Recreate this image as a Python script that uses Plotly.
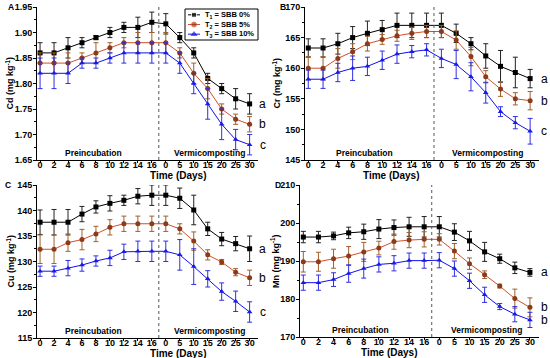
import plotly.graph_objects as go

# ---- x categories ----
pre_days = [0, 2, 4, 6, 8, 10, 12, 14, 16]
vermi_days = [0, 5, 10, 15, 20, 25, 30]
tick_labels = [str(d) for d in pre_days] + [str(d) for d in vermi_days]
x_idx = list(range(len(tick_labels)))

series_names = ["T<sub>1</sub> = SBB 0%", "T<sub>2</sub> = SBB 5%", "T<sub>3</sub> = SBB 10%"]

# ---- Cd ----
cd_t1 = [1.86, 1.86, 1.87, 1.88, 1.89, 1.90, 1.91, 1.91, 1.92, 1.917, 1.89, 1.86, 1.81, 1.79, 1.77, 1.76]
cd_t1_err = [0.02, 0.02, 0.02, 0.01, 0.004, 0.01, 0.01, 0.02, 0.02, 0.02, 0.01, 0.01, 0.01, 0.01, 0.02, 0.02]
cd_t2 = [1.84, 1.84, 1.84, 1.85, 1.86, 1.87, 1.88, 1.88, 1.88, 1.88, 1.86, 1.82, 1.79, 1.75, 1.73, 1.72]
cd_t2_err = [0.02, 0.02, 0.02, 0.01, 0.02, 0.01, 0.01, 0.02, 0.02, 0.02, 0.01, 0.02, 0.02, 0.01, 0.01, 0.015]
cd_t3 = [1.82, 1.82, 1.82, 1.84, 1.84, 1.85, 1.86, 1.86, 1.86, 1.86, 1.84, 1.80, 1.76, 1.72, 1.69, 1.68]
cd_t3_err = [0.03, 0.03, 0.02, 0.01, 0.01, 0.01, 0.02, 0.02, 0.02, 0.02, 0.02, 0.02, 0.03, 0.03, 0.02, 0.02]

# ---- Cr ----
cr_t1 = [163.3, 163.3, 164.0, 165.0, 165.7, 166.3, 167.0, 167.0, 167.0, 167.0, 165.7, 164.0, 162.0, 160.3, 159.3, 158.3]
cr_t1_err = [1.5, 1.5, 1.7, 1.8, 2.0, 1.5, 2.0, 2.0, 2.0, 2.0, 1.5, 1.0, 2.0, 2.6, 2.5, 1.5]
cr_t2 = [160.0, 160.0, 161.6, 162.7, 164.0, 164.7, 165.3, 165.7, 166.0, 166.0, 164.6, 161.9, 158.6, 156.6, 155.0, 154.7]
cr_t2_err = [1.9, 1.9, 1.6, 1.3, 1.2, 0.8, 0.9, 1.0, 1.0, 1.0, 1.5, 1.5, 1.0, 1.2, 1.0, 1.5]
cr_t3 = [158.2, 158.2, 159.3, 160.0, 160.3, 161.3, 162.3, 162.7, 163.0, 161.6, 160.6, 158.6, 156.0, 152.9, 151.1, 149.7]
cr_t3_err = [1.5, 1.5, 1.5, 2.0, 1.5, 1.5, 1.5, 1.0, 1.0, 1.5, 2.3, 2.3, 1.7, 0.8, 1.0, 2.1]

# ---- Cu ----
cu_t1 = [137.7, 137.7, 137.7, 139.3, 140.7, 141.4, 142.0, 142.8, 143.0, 143.0, 142.4, 140.1, 136.4, 134.4, 133.5, 132.5]
cu_t1_err = [2.4, 2.5, 2.5, 1.5, 1.2, 1.5, 1.0, 1.5, 2.0, 2.0, 2.0, 2.9, 1.3, 1.3, 1.4, 2.5]
cu_t2 = [132.4, 132.4, 133.7, 134.3, 135.4, 136.7, 137.4, 137.4, 137.4, 137.4, 136.4, 134.0, 131.3, 129.9, 127.9, 126.8]
cu_t2_err = [2.8, 2.8, 1.7, 2.0, 1.5, 1.5, 1.5, 1.5, 1.5, 1.5, 1.0, 1.8, 1.0, 0.5, 0.7, 1.5]
cu_t3 = [128.1, 128.1, 128.7, 129.3, 130.1, 130.7, 131.9, 132.0, 132.0, 132.0, 131.3, 129.0, 126.6, 124.1, 122.2, 120.1]
cu_t3_err = [1.0, 1.0, 1.5, 1.2, 1.0, 1.5, 1.5, 2.0, 2.0, 2.0, 3.0, 3.5, 1.6, 1.7, 2.0, 2.0]

# ---- Mn ----
mn_t1 = [196.3, 196.3, 196.6, 197.4, 197.7, 198.4, 198.8, 199.0, 199.0, 199.0, 197.6, 195.3, 192.4, 190.6, 188.2, 187.0]
mn_t1_err = [1.5, 1.5, 1.0, 1.5, 2.0, 2.5, 2.0, 2.5, 2.7, 2.7, 2.2, 2.5, 2.5, 1.2, 1.5, 1.0]
mn_t2 = [189.8, 189.8, 190.6, 191.3, 192.4, 193.4, 195.1, 195.5, 195.7, 195.7, 192.6, 189.3, 186.4, 183.4, 180.1, 177.8]
mn_t2_err = [2.7, 2.5, 2.5, 2.5, 2.5, 1.8, 2.0, 2.0, 2.0, 1.5, 2.0, 1.5, 1.0, 0.5, 2.5, 2.5]
mn_t3 = [184.3, 184.3, 185.1, 186.7, 188.0, 189.1, 189.4, 190.1, 190.1, 190.2, 188.0, 184.8, 181.1, 178.0, 176.0, 174.5]
mn_t3_err = [2.0, 2.0, 1.8, 2.3, 2.5, 2.0, 2.0, 2.0, 2.0, 2.0, 2.0, 2.0, 2.0, 0.8, 2.0, 2.0]

panel_letters = ["A", "B", "C", "D"]
y_titles = ["Cd (mg kg<sup>-1</sup>)", "Cr (mg kg<sup>-1</sup>)", "Cu (mg kg<sup>-1</sup>)", "Mn (mg kg<sup>-1</sup>)"]
x_title = "Time (Days)"
y_ranges = [[1.65, 1.95], [145, 170], [115, 145], [170, 210]]
y_dticks = [0.05, 5, 5, 10]
y_formats = [".2f", "d", "d", "d"]
sig_letters = [["a", "b", "c"], ["a", "b", "c"], ["a", "b", "c"], ["a", "b", "b"]]

panels = [
    [(cd_t1, cd_t1_err), (cd_t2, cd_t2_err), (cd_t3, cd_t3_err)],
    [(cr_t1, cr_t1_err), (cr_t2, cr_t2_err), (cr_t3, cr_t3_err)],
    [(cu_t1, cu_t1_err), (cu_t2, cu_t2_err), (cu_t3, cu_t3_err)],
    [(mn_t1, mn_t1_err), (mn_t2, mn_t2_err), (mn_t3, mn_t3_err)],
]

line_colors = ["#000000", "#d0502a", "#1010f0"]
marker_colors = ["#000000", "#8b3a1a", "#1a1ae6"]
err_colors = ["#222222", "#a0602a", "#3030e0"]
symbols = ["square", "circle", "triangle-up"]

W, H = 550, 358
X_RANGE = [-0.22, 15.6]
# panel plot areas in pixels: (left, right, top, bottom)
boxes = [(37, 258, 7, 160), (305, 539, 7, 160), (37, 258, 185, 338), (300, 539, 185, 337)]
x_domains = [[b[0] / W, b[1] / W] for b in boxes]
y_domains = [[1 - b[3] / H, 1 - b[2] / H] for b in boxes]
ytitle_x = [10, 277, 10, 275]
letter_pos = [(11, 7), (283, 7), (8, 185), (278, 185)]
# legend box (pixels) in panel A
LEG = (185, 258, 9, 40)

FONT = "Liberation Sans, Arial, sans-serif"

fig = go.Figure()
layout = dict(
    width=W, height=H,
    margin=dict(l=0, r=0, t=0, b=0, autoexpand=False),
    paper_bgcolor="white", plot_bgcolor="white",
    font=dict(family=FONT, color="black", size=9),
    showlegend=False,
)
annotations = []
shapes = []

for p in range(4):
    sfx = "" if p == 0 else str(p + 1)
    xa, ya = "x" + sfx, "y" + sfx
    l, r, t, b = boxes[p]
    for s, (vals, errs) in enumerate(panels[p]):
        fig.add_trace(go.Scatter(
            x=x_idx, y=vals, xaxis=xa, yaxis=ya,
            mode="lines+markers",
            name=series_names[s],
            line=dict(color=line_colors[s], width=1),
            marker=dict(symbol=symbols[s], size=5, color=marker_colors[s]),
            error_y=dict(type="data", array=errs, visible=True,
                         color=err_colors[s], thickness=1, width=2.5),
            cliponaxis=False,
        ))
        fx = (15.95 - X_RANGE[0]) / (X_RANGE[1] - X_RANGE[0])
        annotations.append(dict(
            x=x_domains[p][0] + fx * (x_domains[p][1] - x_domains[p][0]),
            y=vals[-1], xref="paper", yref=ya, text=sig_letters[p][s],
            showarrow=False, font=dict(size=12, family=FONT), xanchor="center",
        ))
    layout["xaxis" + sfx] = dict(
        domain=x_domains[p], anchor=ya, range=X_RANGE,
        tickmode="array", tickvals=x_idx, ticktext=tick_labels,
        showline=True, linecolor="black", linewidth=1, mirror=False,
        ticks="outside", ticklen=2, tickcolor="black",
        ticklabelstandoff=-6,
        showgrid=False, zeroline=False,
        tickfont=dict(size=9, weight="bold", family=FONT),
    )
    layout["yaxis" + sfx] = dict(
        domain=y_domains[p], anchor=xa, range=y_ranges[p],
        dtick=y_dticks[p], tick0=y_ranges[p][0], tickformat=y_formats[p],
        showline=True, linecolor="black", linewidth=1, mirror=False,
        ticks="outside", ticklen=3, tickcolor="black",
        ticklabelstandoff=-1,
        minor=dict(ticks="outside", ticklen=2, dtick=y_dticks[p] / 2, tickcolor="black"),
        showgrid=False, zeroline=False,
        tickfont=dict(size=9, weight="bold", family=FONT),
    )
    annotations.append(dict(x=(l + r) / 2 / W, y=1 - (b + 15) / H, xref="paper", yref="paper",
                            text=x_title, showarrow=False, yanchor="middle",
                            font=dict(size=10, weight="bold", family=FONT)))
    annotations.append(dict(x=ytitle_x[p] / W, y=1 - (t + b) / 2 / H, xref="paper", yref="paper",
                            text=y_titles[p], showarrow=False, textangle=-90,
                            xanchor="center", yanchor="middle",
                            font=dict(size=9, weight="bold", family=FONT)))
    shapes.append(dict(
        type="line", xref=xa, yref=ya + " domain", x0=8.5, x1=8.5, y0=0, y1=1,
        line=dict(color="#555555", width=1, dash="dot"),
    ))
    annotations.append(dict(x=3.8, y=0.0, xref=xa, yref=ya + " domain", text="Preincubation",
                            showarrow=False, yanchor="bottom",
                            font=dict(size=8.5, weight="bold", family=FONT)))
    annotations.append(dict(x=12.1, y=0.0, xref=xa, yref=ya + " domain", text="Vermicomposting",
                            showarrow=False, yanchor="bottom",
                            font=dict(size=8.5, weight="bold", family=FONT)))
    annotations.append(dict(x=letter_pos[p][0] / W, y=1 - letter_pos[p][1] / H,
                            xref="paper", yref="paper",
                            text=panel_letters[p], showarrow=False,
                            xanchor="center", yanchor="middle",
                            font=dict(size=8.5, weight="bold", family=FONT)))

# ---- compact legend (keys on a hidden helper axis inside panel A) ----
lx0, lx1, ly0, ly1 = LEG
shapes.append(dict(type="rect", xref="paper", yref="paper",
                   x0=lx0 / W, x1=lx1 / W, y0=1 - ly1 / H, y1=1 - ly0 / H,
                   line=dict(color="black", width=1), fillcolor="white", layer="below"))
key_rows = list(range(len(series_names)))
for s in key_rows:
    fig.add_trace(go.Scatter(
        x=[0, 1, 2], y=[s, s, s], xaxis="x5", yaxis="y5",
        mode="lines+markers", showlegend=False, hoverinfo="skip",
        line=dict(color=line_colors[s], width=1),
        marker=dict(symbol=symbols[s], size=[0, 5, 0], color=marker_colors[s]),
    ))
    annotations.append(dict(x=(lx0 + 18) / W, y=s, xref="paper", yref="y5", text=series_names[s],
                            showarrow=False, xanchor="left", yanchor="middle",
                            font=dict(size=7.5, weight="bold", family=FONT)))
layout["xaxis5"] = dict(domain=[(lx0 + 3) / W, (lx0 + 15) / W], anchor="y5", range=[0, 2],
                        visible=False, fixedrange=True)
layout["yaxis5"] = dict(domain=[1 - (ly1 - 1) / H, 1 - (ly0 + 1) / H], anchor="x5",
                        range=[2.5, -0.5], visible=False, fixedrange=True)

layout["annotations"] = annotations
layout["shapes"] = shapes
fig.update_layout(**layout)
fig.write_html("out.html", config={"displayModeBar": False},
               post_script="document.body.style.margin='0';document.body.style.overflow='hidden';")
